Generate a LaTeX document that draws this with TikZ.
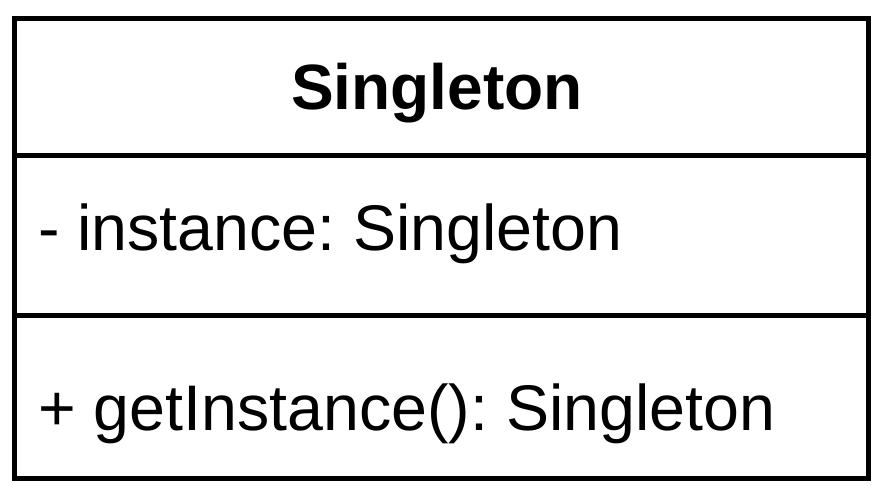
\documentclass[tikz,border=0pt]{standalone}
\usepackage{fontspec}
\setmainfont{Liberation Sans}
\begin{document}
\frenchspacing
\begin{tikzpicture}[x=1pt,y=-1pt,
  boxline/.style={draw=black,line width=5pt},
  txt/.style={inner sep=0pt,font=\fontsize{64.5}{72}\selectfont}]
\useasboundingbox (0,0) rectangle (874,486);
\node[boxline,minimum width=854pt,minimum height=459pt,inner sep=0pt,anchor=north west] (box) at (11.5,16.5) {};
\coordinate (l1) at (11.5,156);
\coordinate (r1) at (865.5,156);
\coordinate (l2) at (11.5,315.5);
\coordinate (r2) at (865.5,315.5);
\draw[boxline] (l1) -- (r1);
\draw[boxline] (l2) -- (r2);
\node[txt,font=\fontsize{64}{72}\selectfont\bfseries,anchor=base] (title) at (437,110) {Singleton};
\node[txt,anchor=base west] (attr) at (38,250) {- instance: Singleton};
\node[txt,anchor=base west] (op) at (38,430) {+ getInstance(): Singleton};
\end{tikzpicture}
\end{document}
